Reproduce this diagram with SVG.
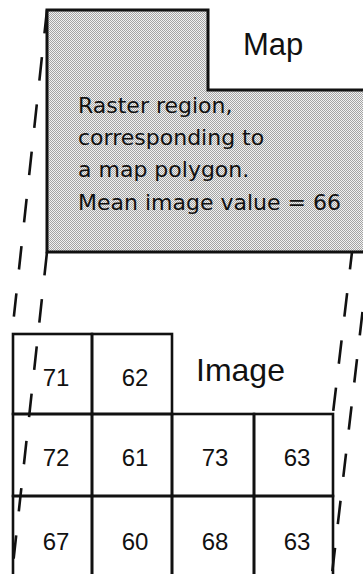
<svg xmlns="http://www.w3.org/2000/svg" width="363" height="574" viewBox="0 0 363 574">
<defs>
<pattern id="stipple" x="0" y="0" width="2" height="2" patternUnits="userSpaceOnUse">
<rect x="0" y="0" width="2" height="2" fill="#f2f2f2"/>
<rect x="0" y="0" width="1" height="1" fill="#a4a4a4"/>
<rect x="1" y="1" width="1" height="1" fill="#a4a4a4"/>
</pattern>
</defs>
<style>
.bg{fill:#ffffff}
.map{fill:url(#stipple);stroke:#111;stroke-width:3;stroke-linejoin:miter}
.cell{fill:none;stroke:#111;stroke-width:2.6}
.title{font-family:"Liberation Sans",Arial,sans-serif;fill:#111}
.body{font-family:"DejaVu Sans",Verdana,sans-serif;font-size:22px;fill:#111}
.num{font-family:"Liberation Sans",Arial,sans-serif;font-size:24px;fill:#111;text-anchor:middle}
.dash{fill:none;stroke:#111;stroke-width:2.6;stroke-dasharray:23.5 24}
</style>
<rect class="bg" x="0" y="0" width="363" height="574"/>
<g id="map">
<polygon class="map" points="47,10 208,10 208,90 368,90 368,252 47,252"/>
<text class="title" x="243" y="55" font-size="31">Map</text>
<text class="body" x="78" y="113">Raster region,</text>
<text class="body" x="78" y="145">corresponding to</text>
<text class="body" x="78" y="177">a map polygon.</text>
<text class="body" x="78" y="210">Mean image value = 66</text>
</g>
<g id="image">
<text class="title" x="196" y="381" font-size="32">Image</text>
<g id="cell-71"><rect class="cell" x="13" y="334" width="79" height="80"/><text class="num" x="56" y="386">71</text></g>
<g id="cell-62"><rect class="cell" x="92" y="334" width="80" height="80"/><text class="num" x="135" y="386">62</text></g>
<g id="cell-72"><rect class="cell" x="13" y="414" width="79" height="82"/><text class="num" x="56" y="466">72</text></g>
<g id="cell-61"><rect class="cell" x="92" y="414" width="80" height="82"/><text class="num" x="135" y="466">61</text></g>
<g id="cell-73"><rect class="cell" x="172" y="414" width="82" height="82"/><text class="num" x="215" y="466">73</text></g>
<g id="cell-63a"><rect class="cell" x="254" y="414" width="79" height="82"/><text class="num" x="297" y="466">63</text></g>
<g id="cell-67"><rect class="cell" x="13" y="496" width="79" height="90"/><text class="num" x="56" y="550">67</text></g>
<g id="cell-60"><rect class="cell" x="92" y="496" width="80" height="90"/><text class="num" x="135" y="550">60</text></g>
<g id="cell-68"><rect class="cell" x="172" y="496" width="82" height="90"/><text class="num" x="215" y="550">68</text></g>
<g id="cell-63b"><rect class="cell" x="254" y="496" width="79" height="90"/><text class="num" x="297" y="550">63</text></g>
</g>
<g id="connectors">
<line class="dash" x1="47" y1="10" x2="12" y2="334"/>
<line class="dash" x1="47" y1="252" x2="12" y2="574"/>
<line class="dash" x1="352" y1="252" x2="333" y2="413" stroke-dashoffset="6"/>
<line class="dash" x1="362.5" y1="312" x2="332" y2="574"/>
</g>
</svg>
